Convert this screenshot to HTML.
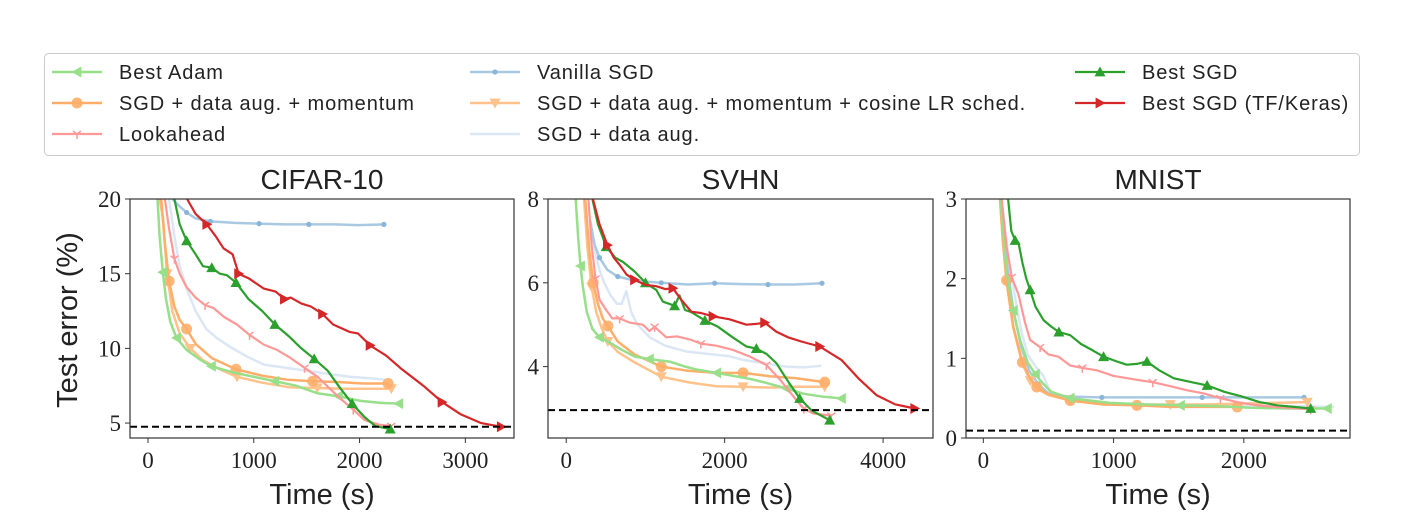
<!DOCTYPE html>
<html><head><meta charset="utf-8"><style>
body{margin:0;background:#fff;}
svg{display:block;}
.tk{font-family:"Liberation Serif",serif;font-size:23px;fill:#222;}
.ti{font-family:"Liberation Sans",sans-serif;font-size:28px;fill:#222;}
.al{font-family:"Liberation Sans",sans-serif;font-size:29px;fill:#222;}
.lg{font-family:"Liberation Sans",sans-serif;font-size:20px;fill:#222;letter-spacing:0.9px;}
</style></head><body>
<svg id="chart" width="1404" height="520" viewBox="0 0 1404 520">
<rect x="44.5" y="53.5" width="1315" height="102" rx="4" fill="#fff" stroke="#ccc"/>
<g id="legend"></g>
<g id="plots"></g>
<text class="al" x="0" y="0" transform="translate(77,320) rotate(-90)" text-anchor="middle">Test error (%)</text>
</svg>
<script>
// ---- data: CIFAR-10 ----
const c_adam_x=[90,110,140,170,210,270,365,480,600,800,1000,1200,1400,1600,1800,2000,2200,2370];
const c_adam_y=[20,17.5,15.1,13.3,11.8,10.7,9.9,9.3,8.8,8.4,8.1,7.8,7.5,7.0,6.8,6.5,6.35,6.3];
const c_mom_x=[125,160,200,250,300,365,450,603,832,1080,1317,1556,1794,2032,2270];
const c_mom_y=[20,17,14.5,12.8,11.9,11.3,10.3,9.35,8.6,8.17,7.9,7.8,7.75,7.65,7.65];
const c_cos_x=[110,143,180,230,300,400,520,680,841,1080,1333,1600,1850,2100,2300];
const c_cos_y=[20,18.7,15,12.5,11,10,9.2,8.6,8.1,7.7,7.4,7.35,7.3,7.3,7.3];
const c_van_x=[230,300,365,450,590,820,1050,1290,1520,1760,1990,2230];
const c_van_y=[20,19.5,19.1,18.7,18.5,18.4,18.35,18.3,18.3,18.3,18.25,18.3];
const c_aug_x=[200,250,300,365,450,550,650,800,950,1100,1300,1500,1700,1900,2100,2240];
const c_aug_y=[20,17.5,15.5,14,12.5,11.3,10.7,10,9.4,8.9,8.7,8.5,8.3,8.1,8.0,7.9];
const c_look_x=[160,200,250,300,365,450,540,619,720,841,960,1095,1220,1349,1480,1603,1720,1825,1940,2048,2180,2300];
const c_look_y=[20,18,16,15,14.1,13.4,12.9,12.7,12.1,11.6,10.9,10.25,9.9,9.35,8.7,8.1,7.3,6.6,5.9,5.2,4.9,4.8];
const c_sgd_x=[250,300,365,450,520,603,680,746,832,950,1080,1200,1333,1450,1571,1700,1810,1930,2048,2150,2290];
const c_sgd_y=[20,18.3,17.2,16.3,15.5,15.4,15.0,14.9,14.4,13.3,12.5,11.6,10.8,10,9.3,8.5,7.4,6.3,5.4,4.8,4.6];
const c_tf_x=[370,450,556,640,714,800,857,950,1095,1206,1290,1349,1450,1540,1650,1750,1905,1984,2100,2254,2400,2603,2780,2952,3150,3340];
const c_tf_y=[20,19,18.3,17.5,16.7,16.3,15.0,14.7,14.0,13.8,13.3,13.4,13.0,12.8,12.3,11.6,11.1,11.0,10.2,9.5,8.6,7.5,6.4,5.6,5.0,4.75];
// ---- data: SVHN ----
const s_adam_x=[120,150,180,211,260,330,420,526,700,863,1050,1305,1500,1642,1900,2100,2337,2550,2779,3000,3250,3474];
const s_adam_y=[8,7.1,6.4,5.9,5.3,4.9,4.7,4.6,4.4,4.24,4.18,4.12,4.0,3.93,3.85,3.78,3.7,3.6,3.48,3.35,3.28,3.24];
const s_mom_x=[240,290,340,400,460,526,650,863,1200,1537,1895,2232,2568,2905,3263];
const s_mom_y=[8,6.8,6.0,5.5,5.15,4.97,4.6,4.29,4.0,3.9,3.85,3.85,3.77,3.72,3.63];
const s_cos_x=[225,270,320,380,450,526,650,863,1200,1558,1895,2232,2568,2905,3263];
const s_cos_y=[8,6.8,5.9,5.3,4.9,4.6,4.35,4.1,3.76,3.62,3.53,3.52,3.5,3.52,3.52];
const s_van_x=[300,360,420,518,650,863,1200,1537,1874,2211,2547,2884,3229];
const s_van_y=[7.5,6.9,6.6,6.31,6.15,6.05,6.0,5.96,5.99,5.97,5.96,5.96,5.99];
const s_aug_x=[330,370,420,480,560,640,700,758,820,900,1053,1250,1516,1800,2050,2232,2500,2779,3000,3221];
const s_aug_y=[7.1,6.7,6.3,6.0,5.7,5.5,5.5,5.8,5.3,5.0,4.7,4.5,4.36,4.3,4.25,4.16,4.08,4.0,3.98,4.02];
const s_look_x=[280,320,370,420,505,580,674,800,968,1050,1116,1263,1400,1558,1700,1895,2100,2316,2526,2695,2800,2905,3000,3116,3347];
const s_look_y=[8,6.9,6.1,5.6,5.35,5.15,5.15,5.05,5.0,4.85,4.95,4.7,4.72,4.65,4.55,4.5,4.4,4.24,4.04,3.7,3.45,3.2,3.0,2.88,2.83];
const s_sgd_x=[330,400,505,620,716,863,1000,1137,1221,1300,1368,1430,1500,1579,1750,1916,2100,2274,2400,2530,2653,2800,2947,3100,3326];
const s_sgd_y=[8,7.4,6.86,6.6,6.5,6.27,6.0,5.83,5.55,5.5,5.45,5.7,5.35,5.3,5.1,4.95,4.7,4.48,4.43,4.3,4.08,3.65,3.24,2.95,2.72];
const s_tf_x=[337,420,520,600,674,760,863,1000,1137,1250,1347,1450,1579,1700,1853,2063,2274,2400,2505,2653,2800,2968,3200,3474,3700,3916,4150,4400];
const s_tf_y=[8,7.4,6.9,6.6,6.43,6.2,6.07,5.95,5.92,5.85,5.87,5.6,5.31,5.28,5.2,5.13,5.0,5.02,5.05,4.83,4.7,4.6,4.48,4.16,3.7,3.32,3.1,3.0];
// ---- data: MNIST ----
const m_adam_x=[130,179,230,282,340,400,449,520,667,974,1250,1513,1800,2051,2350,2641];
const m_adam_y=[3,2.09,1.6,1.23,0.95,0.8,0.7,0.58,0.5,0.44,0.42,0.41,0.4,0.38,0.37,0.37];
const m_mom_x=[128,150,179,230,300,360,410,500,667,923,1179,1436,1692,1949];
const m_mom_y=[3,2.5,1.98,1.4,0.95,0.75,0.64,0.55,0.47,0.42,0.41,0.39,0.39,0.39];
const m_cos_x=[128,150,179,230,300,360,410,500,667,923,1179,1436,1692,1949,2230,2487];
const m_cos_y=[3,2.45,1.95,1.38,0.93,0.72,0.62,0.54,0.47,0.43,0.42,0.42,0.42,0.43,0.44,0.45];
const m_van_x=[140,180,230,290,350,420,500,654,910,1167,1423,1680,1936,2200,2462];
const m_van_y=[3,2.2,1.6,1.15,0.85,0.68,0.56,0.52,0.51,0.51,0.51,0.51,0.51,0.51,0.51];
const m_aug_x=[140,190,240,290,340,400,462,520,654,900,1200,1500,1800,2100,2400,2692];
const m_aug_y=[3,2.3,1.8,1.35,1.05,0.9,0.78,0.55,0.47,0.44,0.42,0.41,0.4,0.4,0.4,0.39];
const m_look_x=[140,179,218,270,320,359,436,500,577,667,760,872,1000,1179,1300,1436,1560,1692,1820,1949,2100,2231,2513];
const m_look_y=[3,2.4,2.02,1.8,1.45,1.23,1.14,1.05,1.02,0.91,0.88,0.85,0.78,0.73,0.7,0.65,0.6,0.56,0.5,0.45,0.41,0.39,0.36];
const m_sgd_x=[190,215,244,270,300,330,359,400,462,520,580,667,750,840,923,1026,1100,1179,1256,1350,1462,1600,1718,1850,1987,2120,2256,2513];
const m_sgd_y=[3,2.6,2.48,2.45,2.2,2.0,1.86,1.65,1.48,1.4,1.33,1.29,1.18,1.1,1.02,0.96,0.92,0.93,0.96,0.85,0.75,0.7,0.66,0.58,0.52,0.45,0.41,0.37];
const m_tf_x=[];const m_tf_y=[];
const titles=["CIFAR-10","SVHN","MNIST"];
const c_xticks=[0,1000,2000,3000];const c_yticks=[5,10,15,20];
const s_xticks=[0,2000,4000];const s_yticks=[4,6,8];
const m_xticks=[0,1000,2000];const m_yticks=[0,1,2,3];
const baselines=[4.75,2.96,0.093];

const NS="http://www.w3.org/2000/svg";
function mk(t,a,p){const e=document.createElementNS(NS,t);for(const k in a)e.setAttribute(k,a[k]);p.appendChild(e);return e;}
const styles={
 aug:{c:"#dbe7f5",m:"none",w:2.5},
 van:{c:"#a9c9e3",m:"o",w:2.5,mc:"#8ab5d8",ms:2.6},
 cos:{c:"#ffc28a",m:"v",w:2.5},
 mom:{c:"#ffae6a",m:"O",w:2.5},
 adam:{c:"#98df8a",m:"<",w:2.5},
 look:{c:"#ff9896",m:"y",w:2.2},
 sgd:{c:"#2ca02c",m:"^",w:2.2},
 tf:{c:"#d62728",m:">",w:2.2}
};
function marker(g,type,x,y,col,s){
 s=s||5.5;let e;
 if(type==="o"){e=mk("circle",{cx:x,cy:y,r:s,fill:col},g);}
 else if(type==="O"){e=mk("circle",{cx:x,cy:y,r:5.5,fill:col,opacity:0.9},g);}
 else if(type==="^")e=mk("polygon",{points:`${x},${y-s} ${x-s},${y+s*0.8} ${x+s},${y+s*0.8}`,fill:col},g);
 else if(type==="v")e=mk("polygon",{points:`${x},${y+s} ${x-s},${y-s*0.8} ${x+s},${y-s*0.8}`,fill:col},g);
 else if(type==="<")e=mk("polygon",{points:`${x-s},${y} ${x+s*0.8},${y-s} ${x+s*0.8},${y+s}`,fill:col},g);
 else if(type===">")e=mk("polygon",{points:`${x+s},${y} ${x-s*0.8},${y-s} ${x-s*0.8},${y+s}`,fill:col},g);
 else if(type==="y")e=mk("path",{d:`M${x},${y} L${x},${y+5} M${x},${y} L${x-4},${y-3} M${x},${y} L${x+4},${y-3}`,stroke:col,"stroke-width":1.5,fill:"none"},g);
 else return;
 
 
}
const panels=[
 {L:130,R:514,T:199,B:438,x0:-170,x1:3460,y0:4.0,y1:20,xt:c_xticks,yt:c_yticks,p:"c"},
 {L:548,R:933,T:199,B:438,x0:-230,x1:4630,y0:2.296,y1:8,xt:s_xticks,yt:s_yticks,p:"s"},
 {L:966,R:1350,T:199,B:438,x0:-133,x1:2815,y0:0,y1:3,xt:m_xticks,yt:m_yticks,p:"m"}
];
const series={c:{adam:[c_adam_x,c_adam_y],mom:[c_mom_x,c_mom_y],cos:[c_cos_x,c_cos_y],van:[c_van_x,c_van_y],aug:[c_aug_x,c_aug_y],look:[c_look_x,c_look_y],sgd:[c_sgd_x,c_sgd_y],tf:[c_tf_x,c_tf_y]},
 s:{adam:[s_adam_x,s_adam_y],mom:[s_mom_x,s_mom_y],cos:[s_cos_x,s_cos_y],van:[s_van_x,s_van_y],aug:[s_aug_x,s_aug_y],look:[s_look_x,s_look_y],sgd:[s_sgd_x,s_sgd_y],tf:[s_tf_x,s_tf_y]},
 m:{adam:[m_adam_x,m_adam_y],mom:[m_mom_x,m_mom_y],cos:[m_cos_x,m_cos_y],van:[m_van_x,m_van_y],aug:[m_aug_x,m_aug_y],look:[m_look_x,m_look_y],sgd:[m_sgd_x,m_sgd_y],tf:[m_tf_x,m_tf_y]}};
const order=["aug","van","cos","mom","adam","look","sgd","tf"];
const plots=document.getElementById("plots");
panels.forEach((P,i)=>{
 const g=mk("g",{},plots);
 
 
 const sx=v=>P.L+(v-P.x0)/(P.x1-P.x0)*(P.R-P.L);
 const sy=v=>P.B-(v-P.y0)/(P.y1-P.y0)*(P.B-P.T);
 const cid="clip"+i;
 const cp=mk("clipPath",{id:cid},g);mk("rect",{x:P.L,y:P.T-1,width:P.R-P.L,height:P.B-P.T+1},cp);
 const dg=mk("g",{"clip-path":`url(#${cid})`},g);
 order.forEach(k=>{
  const [xs,ys]=series[P.p][k];if(!xs.length)return;
  const st=styles[k];
  const d=xs.map((x,j)=>(j?"L":"M")+sx(x).toFixed(1)+","+sy(ys[j]).toFixed(1)).join(" ");
  const pl=mk("path",{d:d,fill:"none",stroke:st.c,"stroke-width":st.w,"stroke-linejoin":"round"},dg);
  
  
  const stride=Math.max(1,Math.ceil(xs.length/7));
  for(let j=2;j<xs.length-2;j+=stride){
   if(ys[j]>P.y1)continue;
   marker(dg,st.m,sx(xs[j]),sy(ys[j]),st.mc||st.c,st.ms);
  }
  marker(dg,st.m,sx(xs[xs.length-1]),sy(ys[ys.length-1]),st.mc||st.c,st.ms);
 });
 const bl=mk("line",{x1:P.L,x2:P.R,y1:sy(baselines[i]),y2:sy(baselines[i]),stroke:"#000","stroke-width":2,"stroke-dasharray":"7,4"},g);
 
 
 const fr=mk("rect",{x:P.L,y:P.T,width:P.R-P.L,height:P.B-P.T,fill:"none",stroke:"#333","stroke-width":1.2},g);
 
 
 P.xt.forEach(v=>{
  mk("line",{x1:sx(v),x2:sx(v),y1:P.B,y2:P.B+5,stroke:"#333"},g);
  const t=mk("text",{x:sx(v),y:P.B+30,"text-anchor":"middle",class:"tk"},g);t.textContent=v;
  
  
 });
 P.yt.forEach(v=>{
  mk("line",{x1:P.L-5,x2:P.L,y1:sy(v),y2:sy(v),stroke:"#333"},g);
  const t=mk("text",{x:P.L-9,y:sy(v)+8,"text-anchor":"end",class:"tk"},g);t.textContent=v;
  
  
 });
 const tt=mk("text",{x:(P.L+P.R)/2,y:189,"text-anchor":"middle",class:"ti"},g);tt.textContent=titles[i];
 
 
 const xl=mk("text",{x:(P.L+P.R)/2,y:504,"text-anchor":"middle",class:"al"},g);xl.textContent="Time (s)";
 
 
});
// legend
const legItems=[["adam","Best Adam",52,72],["mom","SGD + data aug. + momentum",52,103],["look","Lookahead",52,134],
 ["van","Vanilla SGD",470,72],["cos","SGD + data aug. + momentum + cosine LR sched.",470,103],["aug","SGD + data aug.",470,134],
 ["sgd","Best SGD",1075,72],["tf","Best SGD (TF/Keras)",1075,103]];
const lg=document.getElementById("legend");
legItems.forEach(([k,lab,x,y])=>{
 const st=styles[k];
 const g=mk("g",{},lg);
 
 
 mk("line",{x1:x,x2:x+50,y1:y,y2:y,stroke:st.c,"stroke-width":st.w},g);
 marker(g,st.m,x+25,y,st.mc||st.c,st.ms);
 const t=mk("text",{x:x+67,y:y+7,class:"lg"},g);t.textContent=lab;
});
</script>
</body></html>
